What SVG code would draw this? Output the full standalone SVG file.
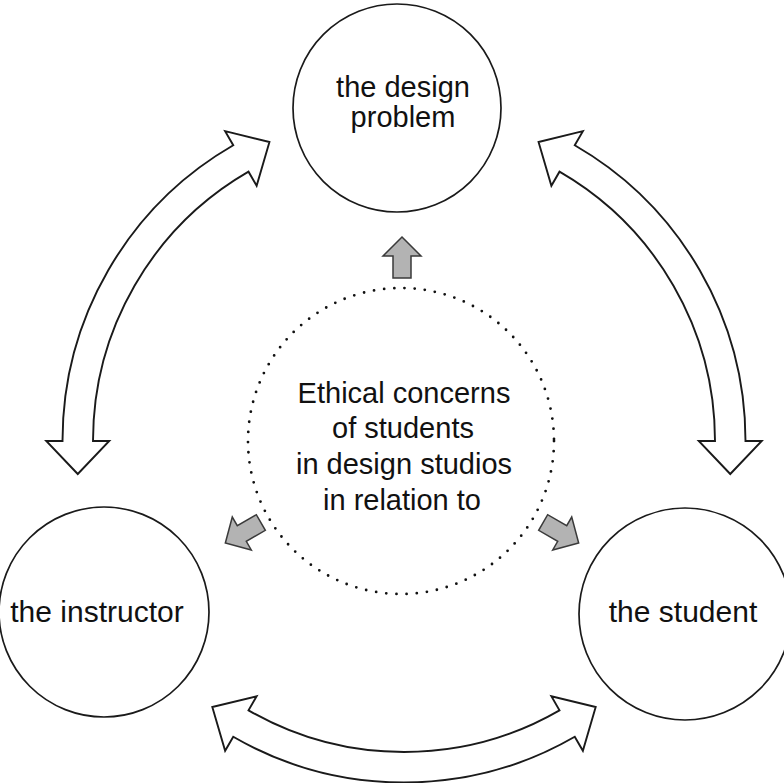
<svg xmlns="http://www.w3.org/2000/svg" width="784" height="783" viewBox="0 0 784 783">
  <style>
    .node { fill: #ffffff; stroke: #1a1a1a; stroke-width: 1.7; }
    .label { font-family: "Liberation Sans", Arial, sans-serif; font-size: 29px; fill: #111111; text-anchor: middle; }
    .lbl30 { font-size: 30px; }
    .big { fill: #ffffff; stroke: #1a1a1a; stroke-width: 1.9; stroke-linejoin: miter; }
    .gray { fill: #b3b3b3; stroke: #3a3a3a; stroke-width: 1.5; stroke-linejoin: miter; }
    .dots { fill: none; stroke: #111111; stroke-width: 2.8; stroke-linecap: round; stroke-dasharray: 0 10.2; }
  </style>
  <defs>
    <path id="grayArrow" class="gray" d="M0,-204 L19,-185 L9,-185 L9,-163 L-9,-163 L-9,-185 L-19,-185 Z"/>
  </defs>
  <rect x="0" y="0" width="784" height="783" fill="#ffffff"/>

  <g id="connectors">
    <path id="arrow-left" class="big" d="M62.5,441 L46.25,441 L77.75,474 L109.25,441 L93,441 A311,311 0 0 1 248.5,171.67 L256.63,185.74 L269.45,141.96 L225.13,131.18 L233.25,145.25 A341.5,341.5 0 0 0 62.5,441 Z"/>
    <path id="arrow-right" class="big" d="M574.75,145.25 L582.88,131.18 L538.55,141.96 L551.38,185.74 L559.5,171.67 A311,311 0 0 1 715,441 L698.75,441 L730.25,474 L761.75,441 L745.5,441 A341.5,341.5 0 0 0 574.75,145.25 Z"/>
    <path id="arrow-bottom" class="big" d="M574.75,736.75 L582.88,750.82 L595.7,707.04 L551.38,696.26 L559.5,710.33 A311,311 0 0 1 248.5,710.33 L256.63,696.26 L212.3,707.04 L225.13,750.82 L233.25,736.75 A341.5,341.5 0 0 0 574.75,736.75 Z"/>
    <use href="#grayArrow" transform="translate(402,441)"/>
    <use href="#grayArrow" transform="translate(402,441) rotate(-120)"/>
    <use href="#grayArrow" transform="translate(402,441) rotate(120)"/>
  </g>

  <g id="node-problem">
    <circle class="node" cx="397" cy="108" r="104"/>
    <text class="label" x="403" y="97">the design</text>
    <text class="label" x="403" y="127">problem</text>
  </g>

  <g id="node-center">
    <circle class="dots" cx="401" cy="441" r="153"/>
    <text class="label" x="404" y="403">Ethical concerns</text>
    <text class="label" x="403" y="438">of students</text>
    <text class="label" x="404" y="474">in design studios</text>
    <text class="label" x="402" y="510">in relation to</text>
  </g>

  <g id="node-instructor">
    <circle class="node" cx="104" cy="612" r="105"/>
    <text class="label lbl30" x="97" y="622">the instructor</text>
  </g>

  <g id="node-student">
    <circle class="node" cx="685" cy="614" r="106"/>
    <text class="label lbl30" x="683" y="622">the student</text>
  </g>
</svg>
